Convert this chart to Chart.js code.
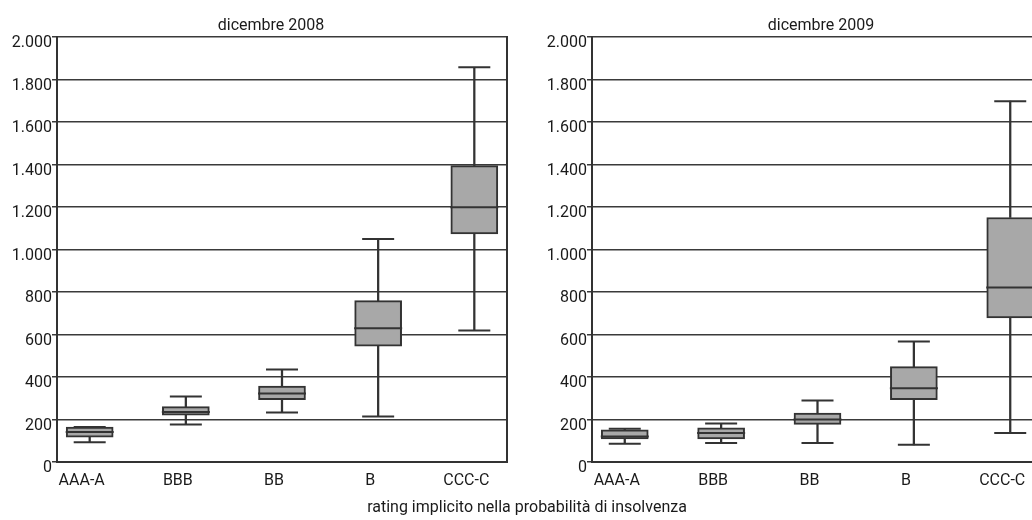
<!DOCTYPE html>
<html>
<head>
<meta charset="utf-8">
<script src="https://cdn.jsdelivr.net/npm/chart.js@4.4.1/dist/chart.umd.min.js"></script>
<style>
  html, body { margin: 0; padding: 0; background: #fff; width: 1032px; height: 520px; overflow: hidden; position: relative; }
  canvas { position: absolute; top: 0; }
  #c1 { left: 0; }
  #c2 { left: 535px; }
  #xtitle { position: absolute; left: 0; width: 1054px; top: 497px; text-align: center;
            font-family: Roboto, "Liberation Sans", sans-serif; font-size: 16px; line-height: 19px; color: #1a1a1a; }
</style>
</head>
<body>
<canvas id="c1" width="542" height="500"></canvas>
<canvas id="c2" width="572" height="500"></canvas>
<div id="xtitle">rating implicito nella probabilità di insolvenza</div>
<script>
// ---- data ----
const categories = ['AAA-A', 'BBB', 'BB', 'B', 'CCC-C'];
const yTicks = [0, 200, 400, 600, 800, 1000, 1200, 1400, 1600, 1800, 2000];

// dicembre 2008
const min2008 = [93, 176, 233, 214, 619];
const q1_2008 = [117, 221, 294, 545, 1074];
const med2008 = [141, 235, 322, 630, 1199];
const q3_2008 = [164, 261, 357, 760, 1395];
const max2008 = [165, 308, 435, 1050, 1858];

// dicembre 2009
const min2009 = [86, 90, 89, 81, 136];
const q1_2009 = [109, 109, 177, 293, 678];
const med2009 = [120, 137, 200, 347, 822];
const q3_2009 = [151, 161, 230, 449, 1151];
const max2009 = [157, 181, 289, 567, 1699];

const FONT = 'Roboto, "Liberation Sans", sans-serif';
const DARK = '#333333';
const TEXT = '#1a1a1a';
const BOXFILL = '#a8a8a8';

function fmt(v) {
  return String(v).replace(/\B(?=(\d{3})+(?!\d))/g, '.');
}

function makeChart(id, title, mn, q1, med, q3, mx, rightPad) {
  const pts = (arr) => arr.map((v, i) => ({ x: i, y: v }));
  const rng = (a, b) => a.map((v, i) => ({ x: i, y: [v, b[i]] }));
  return new Chart(document.getElementById(id), {
    type: 'bar',
    data: {
      datasets: [
        { type: 'bar', data: rng(mn, q1), grouped: false, barThickness: 1.6,
          backgroundColor: DARK, borderWidth: 0, order: 5 },
        { type: 'bar', data: rng(q3, mx), grouped: false, barThickness: 1.6,
          backgroundColor: DARK, borderWidth: 0, order: 5 },
        { type: 'bar', data: rng(q1, q3), grouped: false, barThickness: 47,
          backgroundColor: BOXFILL, borderColor: DARK, borderWidth: 2, borderSkipped: false, order: 4 },
        { type: 'line', data: pts(med), showLine: false, pointStyle: 'line', pointRadius: 24,
          pointBorderWidth: 2, pointBorderColor: DARK, order: 1 },
        { type: 'line', data: pts(mn), showLine: false, pointStyle: 'line', pointRadius: 16,
          pointBorderWidth: 2, pointBorderColor: DARK, order: 2 },
        { type: 'line', data: pts(mx), showLine: false, pointStyle: 'line', pointRadius: 16,
          pointBorderWidth: 2, pointBorderColor: DARK, order: 2 }
      ]
    },
    options: {
      responsive: false,
      animation: false,
      devicePixelRatio: 1,
      layout: { padding: 0 },
      plugins: {
        legend: { display: false },
        tooltip: { enabled: false },
        title: {
          display: true, text: title, color: TEXT,
          font: { family: FONT, size: 16, weight: 'normal' },
          padding: { top: 16, bottom: 2 }
        }
      },
      scales: {
        x: {
          type: 'linear', min: -0.34, max: 4.34, offset: false,
          afterBuildTicks: (s) => { s.ticks = categories.map((c, i) => ({ value: i })); },
          afterFit: (s) => { s.height = 38; },
          grid: { display: false },
          border: { display: true, color: DARK, width: 2 },
          ticks: {
            callback: (v) => categories[v],
            color: TEXT, font: { family: FONT, size: 16 },
            padding: 1, labelOffset: -8, maxRotation: 0, autoSkip: false
          }
        },
        y: {
          type: 'linear', min: 0, max: 2000, position: 'left',
          afterBuildTicks: (s) => { s.ticks = yTicks.map(v => ({ value: v })); },
          afterFit: (s) => { s.width = 57; },
          grid: { color: '#3a3a3a', lineWidth: 1.5, tickLength: 5, drawTicks: true },
          border: { display: true, color: DARK, width: 2 },
          ticks: {
            callback: (v) => fmt(v),
            color: TEXT, font: { family: FONT, size: 16 },
            padding: 0, labelOffset: 6
          }
        },
        y2: {
          type: 'linear', position: 'right', min: 0, max: 1,
          afterFit: (s) => { s.width = rightPad; },
          grid: { display: false, drawTicks: false },
          border: { display: true, color: DARK, width: 2 },
          ticks: { display: false }
        }
      }
    }
  });
}

makeChart('c1', 'dicembre 2008', min2008, q1_2008, med2008, q3_2008, max2008, 35);
makeChart('c2', 'dicembre 2009', min2009, q1_2009, med2009, q3_2009, max2009, 64);
</script>
</body>
</html>
